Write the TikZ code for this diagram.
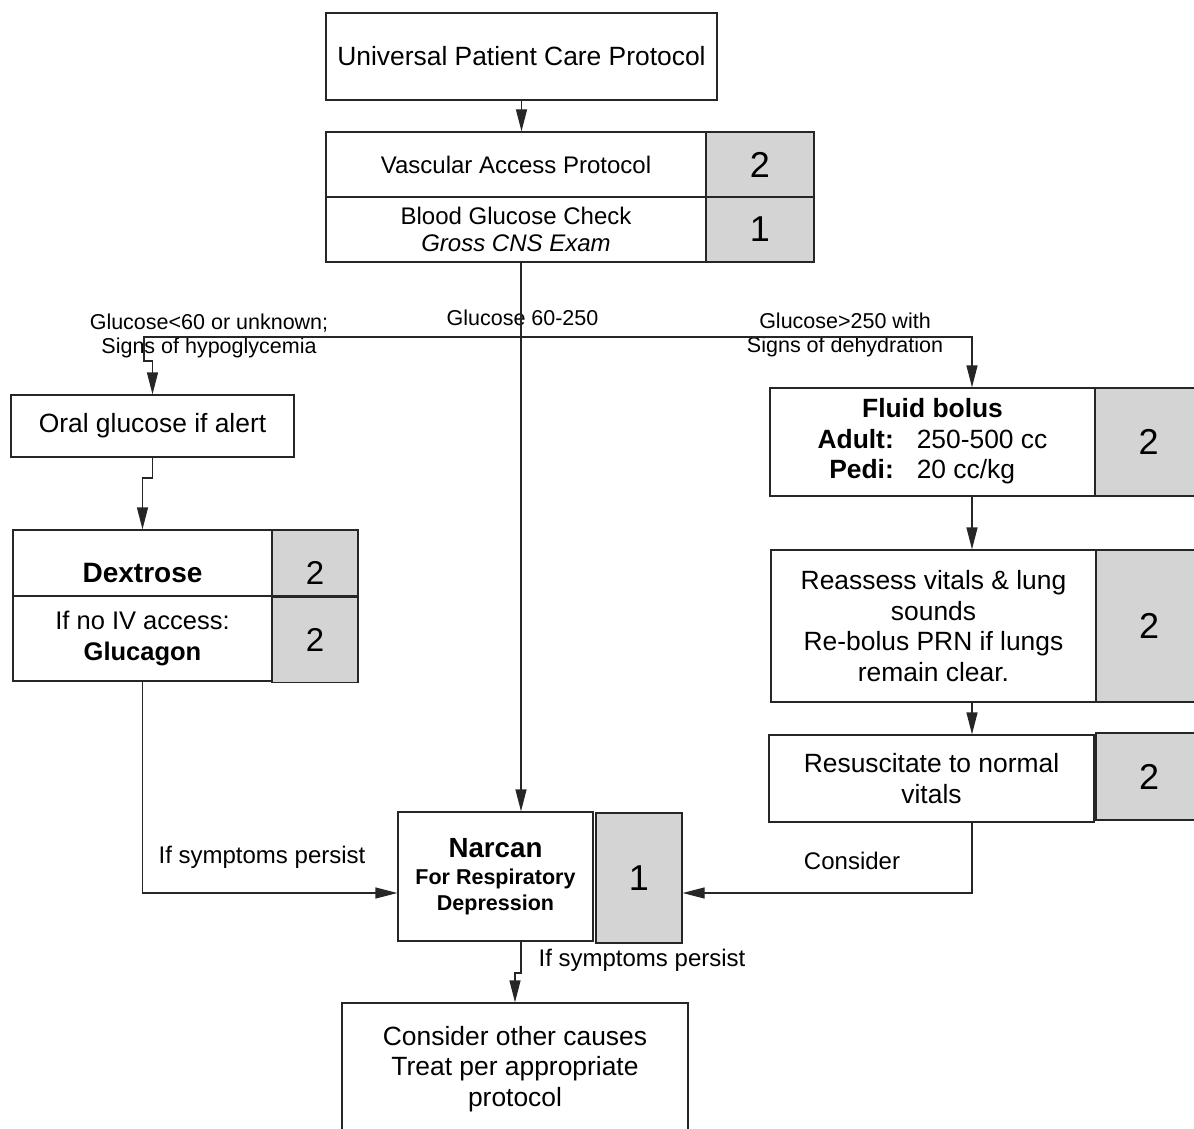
\documentclass[tikz,border=0pt]{standalone}
\usepackage{fontspec}
\setmainfont{Liberation Sans}
\usetikzlibrary{positioning}
\usetikzlibrary{arrows.meta}
\definecolor{numgray}{RGB}{212,212,212}

\begin{document}
\begin{tikzpicture}[x=1pt,y=-1pt,line width=1.3pt]

% variables
\def\bigsize{\fontsize{26.4}{30.5}\selectfont}
\def\midsize{\fontsize{24}{27}\selectfont}
\def\condsize{\fontsize{21.5}{24}\selectfont}
\def\symsize{\fontsize{24}{27}\selectfont}
\def\dexsize{\fontsize{25.5}{30.5}\selectfont}
\def\narsub{\fontsize{21.5}{26}\selectfont\bfseries}
\def\numsize{\fontsize{36}{40}\selectfont}
\def\dexnum{\fontsize{33}{36}\selectfont}
\def\ynar{893}

\tikzset{
    box/.style={draw=black!85,fill=white,align=center,inner sep=0pt},
    numbox/.style={draw=black!85,fill=numgray,inner sep=0pt,font=\numsize},
    edge/.style={draw=black!85,-{Triangle[length=22pt,width=11pt]}},
    conn/.style={draw=black!85},
    cond/.style={align=center,font=\condsize}
}

\clip (0,0) rectangle (1194,1129);

% ----------- top boxes ----------- %
\node[box, minimum width=391pt, minimum height=87pt, font=\bigsize] (upcp) at (521.5,56.5) {Universal Patient Care Protocol};
\node[box, minimum width=380pt, minimum height=65pt, font=\midsize] (vap) at (516,164.5) {Vascular Access Protocol};
\node[numbox, minimum width=108pt, minimum height=65pt] (vapn) at (760,164.5) {2};
\node[box, minimum width=380pt, minimum height=65pt, font=\midsize] (bgc) at (516,229.5) {Blood Glucose Check\\\textit{Gross CNS Exam}};
\node[numbox, minimum width=108pt, minimum height=65pt] (bgcn) at (760,229.5) {1};

% ----------- left branch ----------- %
\node[box, minimum width=283pt, minimum height=62pt, font=\bigsize] (oral) at (152.5,426) {Oral glucose if alert};
\node[box, minimum width=259pt, minimum height=66pt,
      label={[font=\fontsize{28}{32}\selectfont\bfseries, yshift=-10pt]center:Dextrose}] (dex) at (142.5,563) {};
\node[numbox, minimum width=86pt, minimum height=66pt,
      label={[font=\dexnum, yshift=-10pt]center:2}] (dexn) at (315,563) {};
\node[box, minimum width=259pt, minimum height=85pt, font=\dexsize] (glu) at (142.5,638.5) {If no IV access:\\\textbf{Glucagon}};
\node[numbox, minimum width=86pt, minimum height=85pt, font=\dexnum] (glun) at (315,640) {2};

% ----------- right branch ----------- %
\node[box, minimum width=325pt, minimum height=108pt, font=\bigsize] (fluid) at (932.5,442)
    {\rule{0pt}{6pt}\begin{tabular}{@{}r@{\hspace{23pt}}l@{}}
     \multicolumn{2}{c}{\textbf{Fluid bolus}}\\
     \textbf{Adult:} & 250-500 cc\\
     \textbf{Pedi:} & 20 cc/kg
     \end{tabular}};
\node[numbox, minimum width=107pt, minimum height=108pt] (fluidn) at (1148.5,442) {2};
\node[box, minimum width=325pt, minimum height=152pt, font=\bigsize] (reas) at (933.5,626) {Reassess vitals \& lung\\sounds\\Re-bolus PRN if lungs\\remain clear.};
\node[numbox, minimum width=106pt, minimum height=152pt] (reasn) at (1149,626) {2};
\node[box, minimum width=325pt, minimum height=87pt, font=\bigsize] (resus) at (931.5,778.5) {Resuscitate to normal\\vitals};
\node[numbox, minimum width=106pt, minimum height=87pt] (resusn) at (1149,776.5) {2};

% ----------- bottom ----------- %
\node[box, minimum width=195pt, minimum height=129pt, font=\narsub] (narcan) at (495.5,876.5)
    {{\fontsize{27.7}{31}\selectfont\bfseries Narcan}\\[1pt]For Respiratory\\Depression};
\node[numbox, minimum width=86pt, minimum height=130pt] (narcann) at (639,878) {1};
\node[box, minimum width=346pt, minimum height=132pt, font=\bigsize] (other) at (515,1069) {Consider other causes\\Treat per appropriate\\protocol};

% ----------- condition labels ----------- %
\node[cond] (lowlab) at (209,336) {Glucose<60 or unknown;\\Signs of hypoglycemia};
\node[cond] (midlab) at (522.5,318) {Glucose 60-250};
\node[cond] (highlab) at (845,335) {Glucose>250 with\\Signs of dehydration};
\node[font=\symsize] (persl) at (262,857) {If symptoms persist};
\node[font=\symsize] (persr) at (642,960) {If symptoms persist};
\node[font=\symsize] (consid) at (852,861) {Consider};

% ----------- edges ----------- %
\coordinate (split) at (521,337);
\coordinate (ljog) at (144,361);
\coordinate (rdrop) at (972,337);
\coordinate (ojog) at (152.5,478);
\coordinate (njog) at (521,973);

\draw[edge] (upcp.south) -- (upcp.south |- vap.north);
\draw[edge] (split |- bgc.south) -- (split |- narcan.north);
\draw[edge] (split) -| (ljog) -| (oral.north);
\draw[edge] (split) -- (rdrop) -- (rdrop |- fluid.north);

\draw[edge] (oral.south) -- (ojog) -| (dex.north);
\draw[edge] (glu.south) |- (narcan.west |- 0,\ynar);

\draw[edge] (rdrop |- fluid.south) -- (rdrop |- reas.north);
\draw[edge] (rdrop |- reas.south) -- (rdrop |- resus.north);
\draw[edge] (rdrop |- resus.south) |- (narcann.east |- 0,\ynar);

\draw[edge] (njog |- narcan.south) -- (njog) -| (other.north);

\end{tikzpicture}
\end{document}
